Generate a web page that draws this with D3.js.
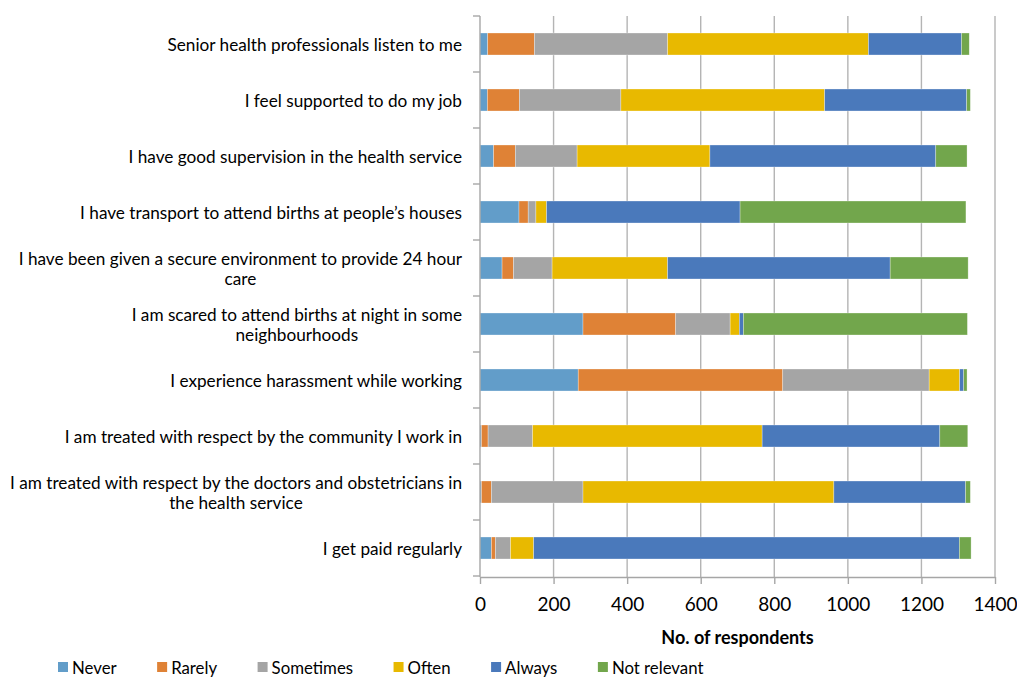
<!DOCTYPE html>
<html>
<head>
<meta charset="utf-8">
<script src="https://cdn.jsdelivr.net/npm/d3@7"></script>
<style>
  html, body { margin: 0; padding: 0; background: #fff; }
  svg { display: block; font-family: Lato, "Open Sans", sans-serif; }
</style>
</head>
<body>
<svg id="chart" width="1017" height="677"></svg>
<script>
// ---- Data ----
const categories = [
  ["Senior health professionals listen to me"],
  ["I feel supported to do my job"],
  ["I have good supervision in the health service"],
  ["I have transport to attend births at people\u2019s houses"],
  ["I have been given a secure environment to provide 24 hour", "care"],
  ["I am scared to attend births at night in some", "neighbourhoods"],
  ["I experience harassment while working"],
  ["I am treated with respect by the community I work in"],
  ["I am treated with respect by the doctors and obstetricians in", "the health service"],
  ["I get paid regularly"]
];
const seriesNames = ["Never", "Rarely", "Sometimes", "Often", "Always", "Not relevant"];
const never       = [21, 20, 37, 106, 60, 280, 267, 4, 4, 31];
const rarely      = [127, 87, 59, 25, 31, 252, 556, 18, 27, 11];
const sometimes   = [362, 276, 168, 21, 105, 148, 398, 121, 249, 41];
const often       = [546, 554, 361, 29, 314, 25, 83, 624, 682, 63];
const always      = [253, 386, 614, 526, 605, 11, 11, 483, 358, 1157];
const notRelevant = [21, 10, 85, 614, 212, 609, 9, 76, 13, 32];
const xTicks = [0, 200, 400, 600, 800, 1000, 1200, 1400];
const xTitle = "No. of respondents";

const colors = ["#629dc9", "#df8236", "#a5a5a5", "#e8b900", "#4a79bb", "#72a64c"];

// ---- Build table ----
const seriesValues = [never, rarely, sometimes, often, always, notRelevant];
const table = categories.map((c, i) => {
  const row = { key: i };
  seriesNames.forEach((s, j) => row[s] = seriesValues[j][i]);
  return row;
});
const stacked = d3.stack().keys(seriesNames)(table);

const svg = d3.select("#chart");
const x = d3.scaleLinear().domain([0, 1400]).range([480, 995]);
const y = d3.scaleBand().domain(d3.range(categories.length)).range([16, 576])
  .paddingInner(0.607).paddingOuter(0.3035);

// gridlines
svg.append("g").selectAll("line").data(xTicks.slice(1)).join("line")
  .attr("x1", d => x(d)).attr("x2", d => x(d))
  .attr("y1", 16).attr("y2", 577)
  .attr("stroke", "#b4b4b4").attr("stroke-width", 1.4);

// bars
svg.append("g").selectAll("g").data(stacked).join("g")
  .attr("fill", (d, i) => colors[i])
  .selectAll("rect").data(d => d).join("rect")
  .attr("x", d => x(d[0]))
  .attr("width", d => Math.max(0, x(d[1]) - x(d[0])))
  .attr("y", (d, i) => y(i))
  .attr("height", y.bandwidth())
  .attr("stroke", "#ffffff").attr("stroke-opacity", 0.5).attr("stroke-width", 0.6);

// left axis line and ticks
const bounds = d3.range(categories.length + 1).map(i => 16 + i * y.step());
const gl = svg.append("g");
gl.append("line").attr("x1", 480).attr("x2", 480).attr("y1", 16).attr("y2", 577)
  .attr("stroke", "#a6a6a6").attr("stroke-width", 1.4);
gl.selectAll("line.tk").data(bounds).join("line").attr("class", "tk")
  .attr("x1", 473).attr("x2", 480).attr("y1", d => d).attr("y2", d => d)
  .attr("stroke", "#a6a6a6").attr("stroke-width", 1.4);

// bottom axis
const xAxis = svg.append("g").attr("transform", "translate(0,577)")
  .call(d3.axisBottom(x).tickValues(xTicks).tickFormat(d3.format("d"))
    .tickSize(7).tickPadding(14).tickSizeOuter(0));
xAxis.select(".domain").attr("stroke", "#a6a6a6").attr("stroke-width", 1.4);
xAxis.selectAll(".tick line").attr("stroke", "#a6a6a6").attr("stroke-width", 1.4);
xAxis.selectAll(".tick text").attr("font-size", 19).attr("fill", "#000")
  .attr("font-family", "Lato, sans-serif");

// category labels
const labelRight = 462;
const lineGap = 20;
const lg = svg.append("g").attr("font-size", 17.2).attr("fill", "#000");
categories.forEach((lines, i) => {
  const cy = y(i) + y.bandwidth() / 2 + 1;
  const t = lg.append("text");
  const spans = lines.map((ln, k) => t.append("tspan").text(ln)
    .attr("y", cy + (k - (lines.length - 1) / 2) * lineGap).attr("dy", "0.35em"));
  const widths = spans.map(s => s.node().getComputedTextLength());
  const maxW = d3.max(widths);
  spans.forEach(s => s.attr("x", labelRight - maxW / 2).attr("text-anchor", "middle"));
});

// axis title
svg.append("text").attr("x", (x(0) + x(1400)) / 2).attr("y", 644)
  .attr("text-anchor", "middle").attr("font-weight", "bold").attr("font-size", 18)
  .text(xTitle);

// legend
const leg = svg.append("g").attr("font-size", 16.8);
let cursor = 58;
seriesNames.forEach((s, i) => {
  leg.append("rect").attr("x", cursor).attr("y", 662).attr("width", 10).attr("height", 10)
    .attr("fill", colors[i]);
  const t = leg.append("text").attr("x", cursor + 14).attr("y", 674).text(s);
  cursor = cursor + 14 + t.node().getComputedTextLength() + 40.5;
});
</script>
</body>
</html>
